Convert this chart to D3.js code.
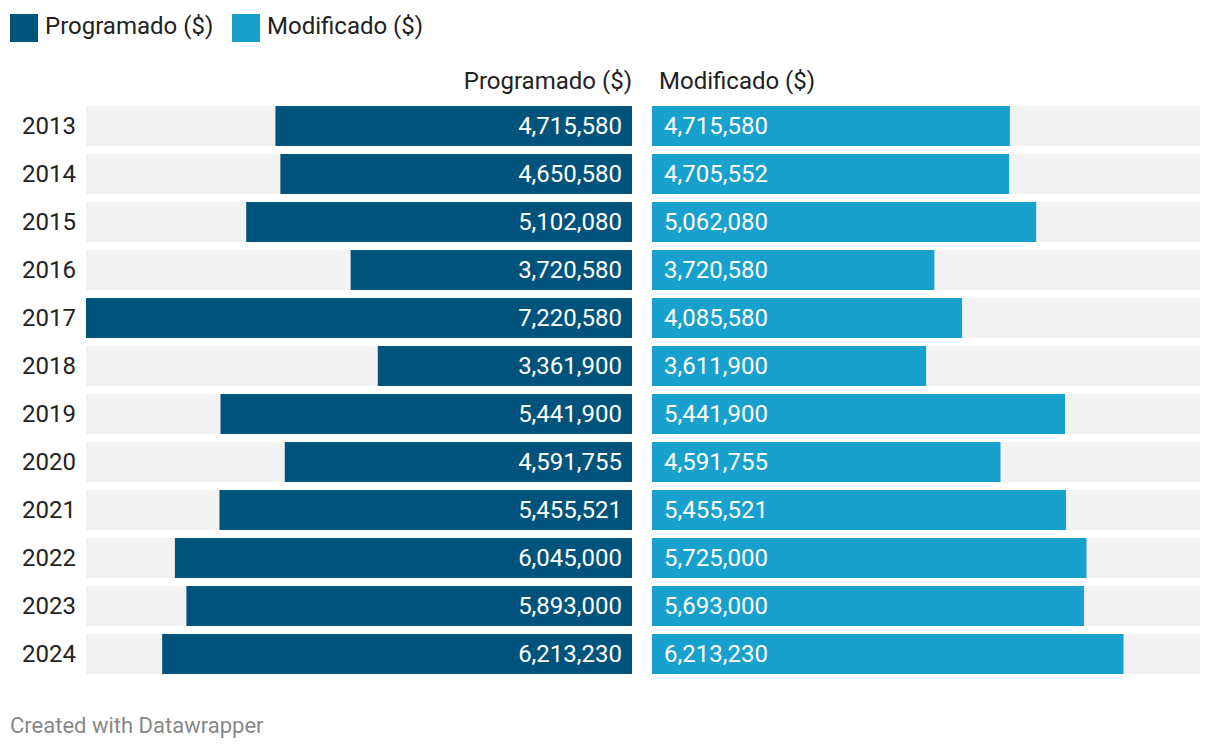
<!DOCTYPE html>
<html><head><meta charset="utf-8">
<script src="https://cdn.jsdelivr.net/npm/d3@7"></script>
<style>body{margin:0;background:#fff;font-family:Roboto,sans-serif;}</style>
</head><body>
<svg id="c" width="1220" height="752"></svg>
<script>
const years = ["2013","2014","2015","2016","2017","2018","2019","2020","2021","2022","2023","2024"];
const programado = [4715580,4650580,5102080,3720580,7220580,3361900,5441900,4591755,5455521,6045000,5893000,6213230];
const modificado = [4715580,4705552,5062080,3720580,4085580,3611900,5441900,4591755,5455521,5725000,5693000,6213230];
const seriesNames = ["Programado ($)","Modificado ($)"];
const colors = ["#00547b","#18a1cd"];

const svg = d3.select("#c");
const fmt = d3.format(",");
const maxV = d3.max(programado.concat(modificado));

const xL = d3.scaleLinear().domain([0, maxV]).range([0, 546]);
const xR = d3.scaleLinear().domain([0, maxV]).range([0, 548]);
const leftEnd = 632, rightStart = 652;
const step = 48, bh = 40;
const yPos = d3.scalePoint().domain(years).range([106, 106+11*step]);
const fs = 24;

const leg = svg.append("g");
const legX = [10, 232];
seriesNames.forEach((n,i)=>{
  leg.append("rect").attr("x",legX[i]).attr("y",14).attr("width",28).attr("height",28).attr("fill",colors[i]);
  leg.append("text").attr("x",legX[i]+35).attr("y",34).attr("font-size",fs).attr("fill","#222").text(n);
});

svg.append("text").attr("x",leftEnd).attr("y",89).attr("text-anchor","end").attr("font-size",fs).attr("fill","#222").text(seriesNames[0]);
svg.append("text").attr("x",rightStart+7).attr("y",89).attr("font-size",fs).attr("fill","#222").text(seriesNames[1]);

const rows = svg.append("g").selectAll("g").data(years).join("g");
rows.append("rect").attr("x",leftEnd-546).attr("y",d=>yPos(d)).attr("width",546).attr("height",bh).attr("fill","#f2f2f2");
rows.append("rect").attr("x",rightStart).attr("y",d=>yPos(d)).attr("width",548).attr("height",bh).attr("fill","#f2f2f2");
rows.append("rect").attr("x",(d,i)=>leftEnd-xL(programado[i])).attr("y",d=>yPos(d)).attr("width",(d,i)=>xL(programado[i])).attr("height",bh).attr("fill",colors[0]);
rows.append("rect").attr("x",rightStart).attr("y",d=>yPos(d)).attr("width",(d,i)=>xR(modificado[i])).attr("height",bh).attr("fill",colors[1]);
rows.append("text").attr("x",22).attr("y",d=>yPos(d)+bh/2+7.5).attr("font-size",fs).attr("fill","#222").text(d=>d);
rows.append("text").attr("x",leftEnd-10).attr("y",d=>yPos(d)+bh/2+7.5).attr("text-anchor","end").attr("font-size",fs).attr("fill","#fff").text((d,i)=>fmt(programado[i]));
rows.append("text").attr("x",rightStart+12).attr("y",d=>yPos(d)+bh/2+7.5).attr("font-size",fs).attr("fill","#fff").text((d,i)=>fmt(modificado[i]));

svg.append("text").attr("x",10).attr("y",733).attr("font-size",22).attr("fill","#888").text("Created with Datawrapper");
</script>
</body></html>
